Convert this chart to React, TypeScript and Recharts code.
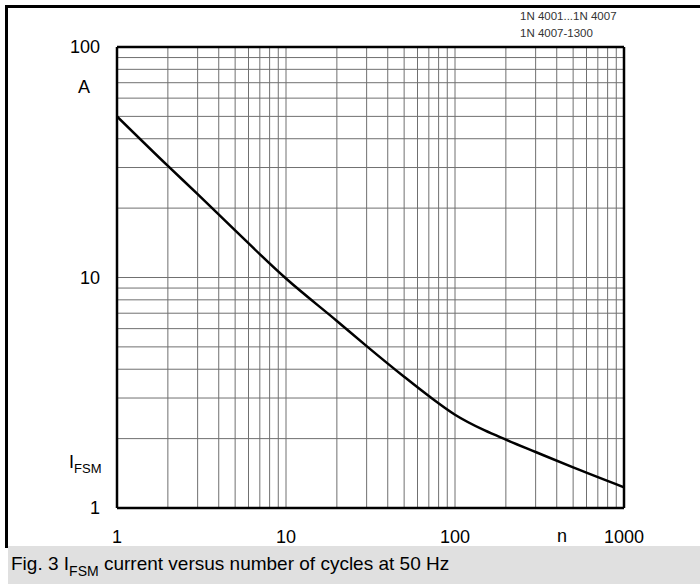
import { LineChart, Line, XAxis, YAxis, ReferenceLine } from 'recharts';

// number of cycles n vs. peak forward surge current I_FSM (A)
const CYCLES = [1, 2, 3, 5, 10, 20, 30, 50, 70, 100, 150, 200, 300, 500, 1000];
const IFSM = [50, 30.5, 23, 16, 9.9, 6.48, 5.04, 3.71, 3.06, 2.54, 2.17, 1.98, 1.75, 1.5, 1.23];

const X_TICKS = [1, 10, 100, 1000];
const Y_TICKS = [1, 10, 100];
const X_GRID = [2, 3, 4, 5, 6, 7, 8, 9, 10, 20, 30, 40, 50, 60, 70, 80, 90, 100, 200, 300, 400, 500, 600, 700, 800, 900];
const Y_GRID = [2, 3, 4, 5, 6, 7, 8, 9, 10, 20, 30, 40, 50, 60, 70, 80, 90];

const FONT = '"Liberation Sans", Arial, sans-serif';
const GRID = '#707070';

const data = CYCLES.map((n, i) => ({ n, i: IFSM[i] }));

export default function App() {
  return (
    <div style={{ position: 'absolute', left: 0, top: 0, width: 700, height: 584, background: '#fff', overflow: 'hidden', fontFamily: FONT }}>
      {/* outer frame (top and left edge only visible) */}
      <div style={{ position: 'absolute', left: 5, top: 5, width: 720, height: 540, borderTop: '3px solid #000', borderLeft: '3px solid #000' }} />

      <div style={{ position: 'absolute', left: 0, top: 0 }}>
        <LineChart width={700} height={584} data={data} margin={{ top: 47, right: 76, bottom: 36, left: 57 }}>
          <XAxis
            dataKey="n"
            type="number"
            scale="log"
            domain={[1, 1000]}
            ticks={X_TICKS}
            allowDataOverflow
            axisLine={false}
            tickLine={false}
            tickMargin={16}
            height={40}
            tick={{ fill: '#000', fontSize: 18, fontFamily: FONT }}
          />
          <YAxis
            type="number"
            scale="log"
            domain={[1, 100]}
            ticks={Y_TICKS}
            allowDataOverflow
            axisLine={false}
            tickLine={false}
            tickMargin={11}
            width={60}
            tick={{ fill: '#000', fontSize: 18, fontFamily: FONT }}
          />
          {X_GRID.map(v => (
            <ReferenceLine key={'x' + v} x={v} stroke={GRID} strokeWidth={1} />
          ))}
          {Y_GRID.map(v => (
            <ReferenceLine key={'y' + v} y={v} stroke={GRID} strokeWidth={1} />
          ))}
          <ReferenceLine x={1} stroke="#000" strokeWidth={2.5} />
          <ReferenceLine x={1000} stroke="#000" strokeWidth={2.5} />
          <ReferenceLine y={1} stroke="#000" strokeWidth={2.5} />
          <ReferenceLine y={100} stroke="#000" strokeWidth={2.5} />
          <Line
            dataKey="i"
            type="monotone"
            stroke="#000"
            strokeWidth={2.5}
            dot={false}
            isAnimationActive={false}
          />
        </LineChart>
      </div>

      {/* axis captions */}
      <div style={{ position: 'absolute', left: 78, top: 77, fontSize: 18, lineHeight: '20px', color: '#000' }}>A</div>
      <div style={{ position: 'absolute', left: 69, top: 452, fontSize: 18, lineHeight: '20px', color: '#000', whiteSpace: 'nowrap' }}>
        I<span style={{ fontSize: 13, position: 'relative', top: 5 }}>FSM</span>
      </div>
      <div style={{ position: 'absolute', left: 557, top: 526, fontSize: 18, lineHeight: '20px', color: '#000' }}>n</div>

      {/* type designation */}
      <div style={{ position: 'absolute', left: 520, top: 8, fontSize: 11.5, lineHeight: '17px', color: '#333', whiteSpace: 'nowrap' }}>
        <div>1N 4001...1N 4007</div>
        <div>1N 4007-1300</div>
      </div>

      {/* figure caption */}
      <div style={{ position: 'absolute', left: 8, top: 546, width: 692, height: 38, background: '#e0e0e0' }}>
        <div style={{ position: 'absolute', left: 3, top: 7, fontSize: 19, lineHeight: '22px', color: '#000', whiteSpace: 'nowrap' }}>
          Fig. 3 I<span style={{ fontSize: 14, position: 'relative', top: 6 }}>FSM</span> current versus number of cycles at 50 Hz
        </div>
      </div>
    </div>
  );
}
